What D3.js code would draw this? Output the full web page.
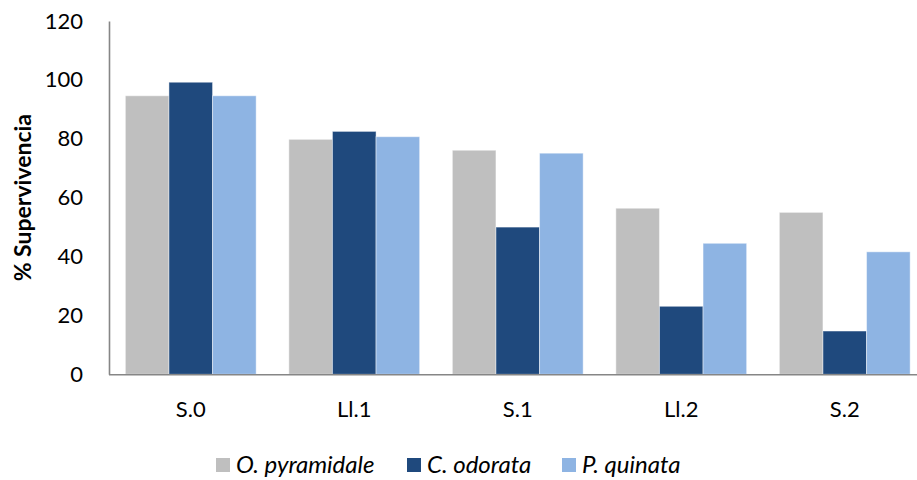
<!DOCTYPE html>
<html>
<head>
<meta charset="utf-8">
<script src="https://cdn.jsdelivr.net/npm/d3@7"></script>
<style>
  html, body { margin: 0; padding: 0; background: #fff; }
  svg { display: block; font-family: Lato, "Open Sans", sans-serif; }
</style>
</head>
<body>
<svg id="chart" width="917" height="480"></svg>
<script>
// Survival percentage by treatment and species
const categories = ["S.0", "Ll.1", "S.1", "Ll.2", "S.2"];
const seriesNames = ["O. pyramidale", "C. odorata", "P. quinata"];
const oPyramidale = [94.6, 79.8, 76.1, 56.4, 55.0];
const cOdorata = [99.2, 82.5, 50.0, 23.1, 14.7];
const pQuinata = [94.6, 80.7, 75.1, 44.5, 41.6];
const yTicks = [0, 20, 40, 60, 80, 100, 120];
const colors = ["#BFBFBF", "#1F497D", "#8EB4E3"];

const series = [oPyramidale, cOdorata, pQuinata];

const svg = d3.select("#chart");
const plotLeft = 109, plotTop = 21, plotBottom = 374.3;
const bandWidth = 163.5;

const x = d3.scaleBand()
  .domain(categories)
  .range([plotLeft, plotLeft + bandWidth * categories.length])
  .paddingInner(0.2)
  .paddingOuter(0.1);

const x1 = d3.scaleBand()
  .domain(seriesNames)
  .range([0, x.bandwidth()]);

const y = d3.scaleLinear().domain([0, 120]).range([plotBottom, plotTop]);

// Bars
const groups = svg.append("g")
  .selectAll("g")
  .data(categories)
  .join("g")
  .attr("transform", d => `translate(${x(d)},0)`);

groups.selectAll("rect")
  .data((c, i) => seriesNames.map((s, k) => ({ s, k, v: series[k][i] })))
  .join("rect")
  .attr("x", d => x1(d.s))
  .attr("width", x1.bandwidth())
  .attr("y", d => y(d.v))
  .attr("height", d => y(0) - y(d.v))
  .attr("fill", d => colors[d.k])
  .attr("stroke", "#ffffff")
  .attr("stroke-opacity", 0.45)
  .attr("stroke-width", 1);

// Y axis
const yAxis = svg.append("g")
  .attr("transform", `translate(${plotLeft},0)`)
  .call(d3.axisLeft(y).tickValues(yTicks).tickSize(0).tickPadding(26));
yAxis.select(".domain").attr("stroke", "#868686").attr("stroke-width", 1.6);
yAxis.selectAll("text")
  .attr("font-size", 22)
  .attr("fill", "#000")
  .attr("font-family", "Lato, 'Open Sans', sans-serif");

// X axis
const xAxis = svg.append("g")
  .attr("transform", `translate(0,${plotBottom})`)
  .call(d3.axisBottom(x).tickSize(0).tickPadding(27));
xAxis.select(".domain")
  .attr("d", `M${plotLeft},0.5H917`)
  .attr("stroke", "#868686")
  .attr("stroke-width", 1.6);
xAxis.selectAll("text")
  .attr("font-size", 22)
  .attr("fill", "#000")
  .attr("font-family", "Lato, 'Open Sans', sans-serif");

// Y axis title
svg.append("text")
  .attr("transform", `translate(31,${(plotTop + plotBottom) / 2}) rotate(-90)`)
  .attr("text-anchor", "middle")
  .attr("font-size", 23)
  .attr("font-weight", "bold")
  .attr("fill", "#000")
  .text("% Supervivencia");

// Legend
const legendX = [216, 407, 562];
const legend = svg.append("g")
  .selectAll("g")
  .data(seriesNames)
  .join("g")
  .attr("transform", (d, i) => `translate(${legendX[i]},458)`);
legend.append("rect")
  .attr("width", 14)
  .attr("height", 14)
  .attr("fill", (d, i) => colors[i]);
legend.append("text")
  .attr("x", 20)
  .attr("y", 14.5)
  .attr("font-size", 24)
  .attr("font-style", "italic")
  .attr("fill", "#000")
  .text(d => d);
</script>
</body>
</html>
